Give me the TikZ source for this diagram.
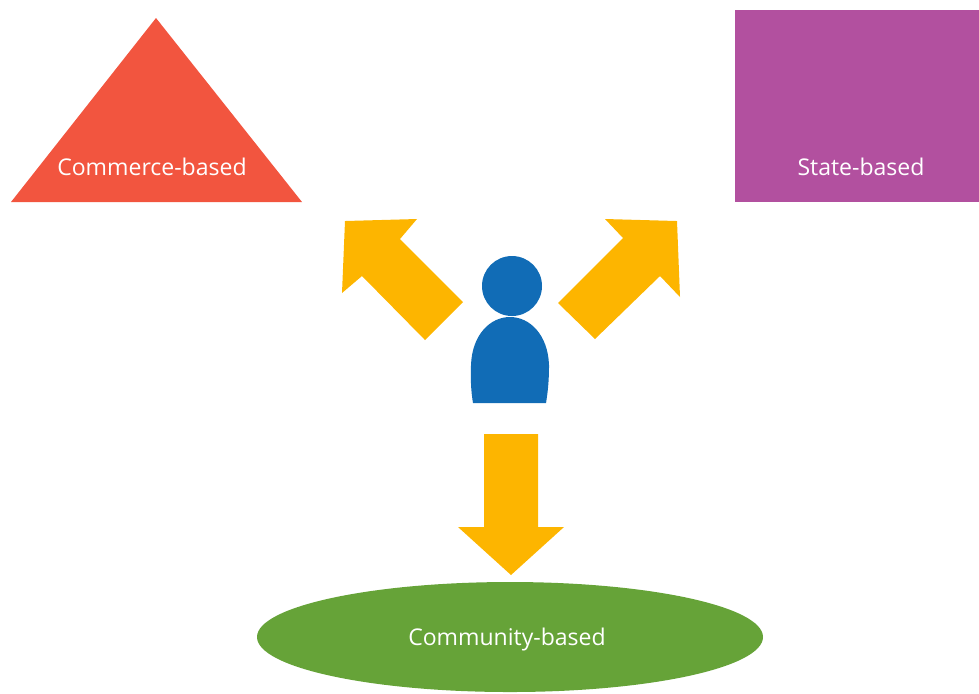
\documentclass[tikz,border=0pt]{standalone}
\usepackage{fontspec}
\setmainfont{Open Sans}
\definecolor{commerce}{HTML}{F2553F}
\definecolor{state}{HTML}{B2509F}
\definecolor{community}{HTML}{66A338}
\definecolor{pointer}{HTML}{FDB500}
\definecolor{person}{HTML}{116CB6}
\tikzset{
  label text/.style={text=white, font=\fontsize{6.55pt}{9pt}\selectfont, inner sep=0pt, anchor=base},
  pointer arrow/.style={fill=pointer}
}

\begin{document}
\begin{tikzpicture}[x=.01cm, y=-.01cm]
 \useasboundingbox (0,0) rectangle (979,693);

 \fill [commerce] (156,18) -- (302,202) -- (11,202) -- cycle;
 \fill [state] (735,10) rectangle (979,202);
 \begin{scope}
 \clip (0,0) rectangle (979,693);
 \fill [community] (510,637) ellipse [x radius=253, y radius=55];
 \end{scope}

 \node [label text] (commerceLabel) at (152,175) {Commerce-based};
 \node [label text] (stateLabel) at (861,175) {State-based};
 \node [label text] (communityLabel) at (507,645) {Community-based};

 \fill [pointer arrow] (345,221) -- (417,219) -- (400,239) -- (463,302) -- (425,340) -- (362,276) -- (342,293) -- cycle;
 \fill [pointer arrow] (605,219) -- (677,221) -- (680,297) -- (660,276) -- (595,339) -- (558,303) -- (623,238) -- cycle;
 \fill [pointer arrow] (484,434) -- (538,434) -- (538,527) -- (564,527) -- (511,575) -- (458,527) -- (484,527) -- cycle;

 \fill [person] (512,286) circle [radius=30];
 \fill [person] (473,403) .. controls (470,385) and (471,372) .. (471,365) .. controls (472,335) and (490,317) .. (510,317) .. controls (530,317) and (548,335) .. (549,365) .. controls (549,372) and (549,385) .. (546,403) -- cycle;
\end{tikzpicture}
\end{document}
